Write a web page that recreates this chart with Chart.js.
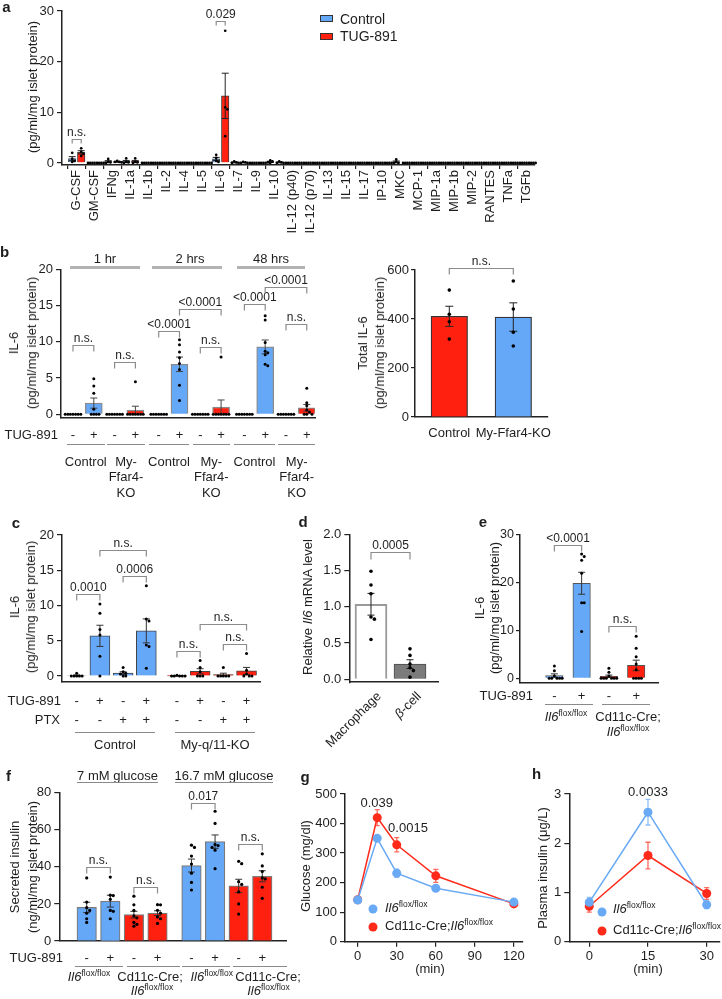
<!DOCTYPE html>
<html><head><meta charset="utf-8"><title>Figure</title>
<script src="https://cdn.jsdelivr.net/npm/chart.js@4.4.1/dist/chart.umd.min.js"></script>
<style>
html,body{margin:0;padding:0;background:#fff}
#root{position:relative;width:722px;height:999px;overflow:hidden;font-family:"Liberation Sans",Arial,sans-serif;color:#1e1e1e}
#root canvas{position:absolute}
.t{position:absolute;white-space:nowrap;font-size:13px;line-height:16px}
.c{transform:translate(-50%,-50%);text-align:center}
.lc{transform:translateY(-50%)}
.r{transform:translate(-50%,-50%) rotate(-90deg);text-align:center}
.d45{transform-origin:100% 50%;transform:translate(-100%,-50%) rotate(-45deg)}
.L{font-weight:bold;font-size:15px;transform:translate(-50%,-50%)}
sup{font-size:8.5px;line-height:0;vertical-align:5px}
.hl{position:absolute}
.dot{position:absolute;width:9px;height:9px;border-radius:50%;transform:translate(-50%,-50%)}
.box{position:absolute;border:1px solid #333;box-sizing:border-box}
</style></head><body><div id="root"></div>
<script>
// ================= DATA =================
// panel a
const aCats=['G-CSF','GM-CSF','IFNg','IL-1a','IL-1b','IL-2','IL-4','IL-5','IL-6','IL-7','IL-9','IL-10','IL-12 (p40)','IL-12 (p70)','IL-13','IL-15','IL-17','IP-10','MKC','MCP-1','MIP-1a','MIP-1b','MIP-2','RANTES','TNFa','TGFb'];
const aCtrl=[0.85,0,0.28,0.3,0,0,0,0,0.8,0.1,0,0.22,0,0,0,0,0,0,0.22,0,0,0,0,0,0,0];
const aCtrlSem=[0.4,0,0.18,0.2,0,0,0,0,0.3,0.07,0,0.12,0,0,0,0,0,0,0.17,0,0,0,0,0,0,0];
const aTug=[2.1,0,0.22,0.3,0,0,0,0,13.25,0.08,0,0.1,0,0,0,0,0,0,0,0,0,0,0,0,0,0];
const aTugSem=[0.32,0,0.07,0.2,0,0,0,0,4.47,0.05,0,0.07,0,0,0,0,0,0,0,0,0,0,0,0,0,0];
const Z4=[0,0,0,0];
const aCtrlDots=[[2.0,0.8,0.4,0.2],Z4,[0.8,0.2,0.1,0],[0.9,0.2,0.1,0],Z4,Z4,Z4,Z4,[1.6,1.0,0.4,0.2],[0.3,0.1,0,0],Z4,[0.5,0.3,0.1,0],Z4,Z4,Z4,Z4,Z4,Z4,[0.7,0.2,0,0],Z4,Z4,Z4,Z4,Z4,Z4,Z4];
const aTugDots=[[2.9,2.2,1.8,1.4],Z4,[0.4,0.2,0.2,0.1],[0.9,0.2,0.1,0],Z4,Z4,Z4,Z4,[26.1,11.0,10.6,5.3],[0.2,0.1,0,0],Z4,[0.3,0.1,0,0],Z4,Z4,Z4,Z4,Z4,Z4,Z4,Z4,Z4,Z4,Z4,Z4,Z4,Z4];
const aYTicks=[0,10,20,30];
const aSeries=['Control','TUG-891'];

// panel b (left)
const bTug=['-','+','-','+','-','+','-','+','-','+','-','+'];
const bIL6=[0,1.55,0,0.56,0,6.9,0,0.99,0,9.3,0,0.91];
const bSem=[0,0.7,0,0.56,0,1.0,0,0.99,0,0.95,0,0.45];
const Z7=[0,0,0,0,0,0,0];
const bDots=[Z7,[4.9,3.9,2.9,0.7,0,0,0,0],Z7,[4.5,0,0,0,0,0,0,0],Z7,[10.3,9.6,8.6,7.8,7.0,6.2,4.0,1.9],Z7,[7.9,0,0,0,0,0,0,0],Z7,[13.6,13.0,9.9,8.7,8.5,8.2,6.9,6.7],Z7,[3.6,1.6,1.2,0.6,0.3,0,0,0]];
const bYTicks=[0,5,10,15,20];
// panel b (right)
const bTotCats=['Control','My-Ffar4-KO'];
const bTot=[411,408];
const bTotSem=[41,58];
const bTotDots=[[518,419,389,318],[555,441,346,290]];
const bTotTicks=[0,200,400,600];

// panel c
const cTug=['-','+','-','+','-','+','-','+'];
const cPtx=['-','-','+','+','-','-','+','+'];
const cIL6=[0.07,5.7,0.42,6.4,0.02,0.67,0.2,0.72];
const cSem=[0.07,1.5,0.18,1.7,0.02,0.36,0.2,0.5];
const cDots=[[0.4,0,0,0,0,0],[10.2,8.9,6.6,5.8,2.8,0],[1.2,0.6,0.4,0.3,0,0],[12.8,8.1,7.8,4.4,4.2,1.1],[0.1,0,0,0,0,0],[2.2,1.2,0.6,0,0,0],[1.2,0,0,0,0,0],[3.2,0.8,0.3,0,0,0]];
const cYTicks=[0,5,10,15,20];

// panel d
const dCats=['Macrophage','β-cell'];
const dRel=[1.035,0.21];
const dSem=[0.15,0.06];
const dDots=[[1.49,1.30,1.18,0.86,0.83,0.55],[0.42,0.33,0.21,0.16,0.12,0.03]];
const dYTicks=[0,0.5,1,1.5,2];

// panel e
const eTug=['-','+','-','+'];
const eIL6=[0.59,19.9,0.43,2.7];
const eSem=[0.35,2.3,0.25,1.1];
const eDots=[[2.6,1.6,0.5,0,0,0,0,0],[26,25.5,24.7,22,15.8,15.8,9.8],[2.1,1.3,0.5,0,0,0,0,0,0],[8.8,6.3,4.5,3.0,1.8,0,0,0,0]];
const eYTicks=[0,10,20,30];

// panel f
const fTug=['-','+','-','+','-','+','-','+'];
const fIns=[18.1,21.5,14.2,15.0,40.7,53.6,29.7,34.9];
const fSem=[2.8,3.2,1.8,1.3,3.5,3.6,3.6,3.0];
const fDots=[[34,21,18,16.5,15,12,10],[34.5,24.7,24.5,22.5,16.5,16,12],[24.2,19.5,16.5,13.5,12.5,10,9,8],[19.6,19.5,16.6,15,13,12,9.5],[51.7,50.5,45.8,41.5,36.6,31.6,27.5],[70,63.4,52,51.5,50.5,49,39],[43,41.7,32,30.5,26.5,20,14.5],[47,40.5,37.5,34,33.5,29,23]];
const fYTicks=[0,20,40,60,80];

// panel g
const gMin=[0,15,30,60,120];
const gFlox=[141,350,232,181,134];
const gFloxSem=[8,8,14,10,6];
const gCre=[142,420,328,223,128];
const gCreSem=[10,27,24,22,6];
const gXTicks=[0,30,60,90,120];
const gYTicks=[0,100,200,300,400,500];

// panel h
const hMin=[0,15,30];
const hFlox=[0.80,2.63,0.75];
const hFloxSem=[0.10,0.26,0.08];
const hCre=[0.72,1.75,0.98];
const hCreSem=[0.12,0.27,0.12];
const hXTicks=[0,15,30];
const hYTicks=[0,1,2,3];

// ================= STYLE / HELPERS =================
const FF='"Liberation Sans", Arial, Helvetica, sans-serif';
const TXT='#1e1e1e', AX='#222222';
const BLUE='#66a8f8', RED='#ff200f', LBLUE='#6aaaf5', LRED='#ff2a1a';
const root=document.getElementById('root');

function swarm(ys,gap){
  const placed=[],out=[];
  const order=ys.map((y,i)=>i).sort((a,b)=>ys[a]-ys[b]);
  for(const i of order){
    const y=ys[i];let x=0;
    for(let n=0;n<60;n++){
      x=n===0?0:(n%2?1:-1)*Math.ceil(n/2)*gap;
      if(placed.every(p=>Math.hypot(p.x-x,p.y-y)>=gap-0.01))break;
    }
    placed.push({x,y});out[i]=x;
  }
  return out;
}
function makeDeco(o){
  const P=(chart,ref)=>{const r=Array.isArray(ref)?ref:[0,ref];return chart.getDatasetMeta(r[0]).data[r[1]].x;};
  function errs(chart){
    const ctx=chart.ctx,ys=chart.scales.y;
    chart.data.datasets.forEach((ds,di)=>{
      if(!ds.sem)return;
      chart.getDatasetMeta(di).data.forEach((el,i)=>{
        const s=ds.sem[i];if(!(s>0))return;
        const v=ds.data[i].y,x=el.x;
        const yh=ys.getPixelForValue(v+s),yl=ys.getPixelForValue(Math.max(v-s,ys.min));
        const cw=ds.cap||3.5;
        ctx.strokeStyle=ds.errColor||'#222';ctx.lineWidth=ds.errWidth||1;
        ctx.beginPath();ctx.moveTo(x,yh);ctx.lineTo(x,yl);
        ctx.moveTo(x-cw,yh);ctx.lineTo(x+cw,yh);ctx.moveTo(x-cw,yl);ctx.lineTo(x+cw,yl);ctx.stroke();
      });
    });
  }
  function dots(chart){
    const ctx=chart.ctx,ys=chart.scales.y;
    chart.data.datasets.forEach((ds,di)=>{
      if(!ds.dots)return;
      chart.getDatasetMeta(di).data.forEach((el,i)=>{
        const d=ds.dots[i];if(!d)return;
        const py=d.map(v=>ys.getPixelForValue(v));const off=swarm(py,o.dotGap||3);
        ctx.fillStyle='#000';
        py.forEach((yy,k)=>{ctx.beginPath();ctx.arc(el.x+off[k],yy,o.dotR||1.6,0,Math.PI*2);ctx.fill();});
      });
    });
  }
  function brackets(chart){
    const ctx=chart.ctx,ys=chart.scales.y;
    (o.brackets||[]).forEach(b=>{
      const x1=P(chart,b.a),x2=P(chart,b.b),y=Math.round(ys.getPixelForValue(b.y))+0.5,t=o.btick||6;
      ctx.strokeStyle=o.bcolor||'#8c8c8c';ctx.lineWidth=1.2;
      ctx.beginPath();ctx.moveTo(x1,y+t);ctx.lineTo(x1,y);ctx.lineTo(x2,y);ctx.lineTo(x2,y+t);ctx.stroke();
      ctx.fillStyle=TXT;ctx.font='12px '+FF;ctx.textAlign='center';ctx.textBaseline='alphabetic';
      ctx.fillText(b.t,(x1+x2)/2,y-3.5);
    });
  }
  function rows(chart){
    const ctx=chart.ctx;
    (o.rows||[]).forEach(r=>{
      ctx.font='13px '+FF;ctx.fillStyle=TXT;ctx.textBaseline='middle';
      ctx.textAlign='right';ctx.fillText(r.label,r.lx-o.bx,r.y-o.by);
      ctx.textAlign='center';
      r.items.forEach((t,i)=>ctx.fillText(t,P(chart,i),r.y-o.by));
    });
  }
  return {id:'deco',
    beforeDatasetsDraw(chart){if(o.errBefore)errs(chart);},
    afterDatasetsDraw(chart){if(!o.errBefore)errs(chart);dots(chart);brackets(chart);rows(chart);}};
}
function mk(box,plot,cfg,deco){
  const [bx,by,bw,bh]=box,[pl,pt,pr,pb]=plot;
  const cv=document.createElement('canvas');cv.width=bw;cv.height=bh;
  cv.style.left=bx+'px';cv.style.top=by+'px';cv.style.width=bw+'px';cv.style.height=bh+'px';
  root.appendChild(cv);
  const o=cfg.options;
  Object.assign(o,{responsive:false,maintainAspectRatio:false,animation:false,devicePixelRatio:1,events:[]});
  o.layout={autoPadding:false,padding:{left:0,top:pt-by,right:bx+bw-pr,bottom:0}};
  o.plugins={legend:{display:false},tooltip:{enabled:false},title:{display:false}};
  o.scales.x.afterFit=s=>{s.height=by+bh-pb;s.paddingLeft=0;s.paddingRight=0;s.paddingTop=0;s.paddingBottom=0;};
  o.scales.y.afterFit=s=>{s.width=pl-bx;s.paddingLeft=0;s.paddingRight=0;s.paddingTop=0;s.paddingBottom=0;};
  cfg.plugins=[makeDeco(Object.assign({bx,by},deco||{}))];
  return new Chart(cv,cfg);
}
const yS=(min,max,ticks,fmt,ex)=>({type:'linear',min,max,
  afterBuildTicks:s=>{s.ticks=ticks.map(v=>({value:v}));},
  ticks:Object.assign({font:{family:FF,size:13},color:TXT,padding:3,callback:fmt||(v=>String(v))},(ex&&ex.ticks)||{}),
  grid:Object.assign({display:true,drawOnChartArea:false,drawTicks:true,tickLength:5,color:AX,lineWidth:1.2},(ex&&ex.grid)||{}),
  border:{display:true,color:AX,width:1.5}});
const xNone=(min,max)=>({type:'linear',offset:false,min,max,grid:{display:false},
  border:{display:true,color:AX,width:1.5},ticks:{display:false}});
const xLab=(min,max,ticks,labels,extra)=>Object.assign({type:'linear',offset:false,min,max,
  afterBuildTicks:s=>{s.ticks=ticks.map(v=>({value:v}));},
  ticks:Object.assign({autoSkip:false,font:{family:FF,size:13},color:TXT,padding:2,callback:labels?(v=>labels[v]):(v=>String(v))},(extra&&extra.ticks)||{}),
  grid:Object.assign({display:true,drawOnChartArea:false,drawTicks:true,tickLength:5,color:AX,lineWidth:1.2},(extra&&extra.grid)||{}),
  border:{display:true,color:AX,width:1.5}});
function bars(vals,pos,extra){return Object.assign({type:'bar',data:vals.map((v,i)=>({x:pos(i),y:v})),grouped:false},extra);}

// HTML text helpers
function T(html,x,y,cls,st){const d=document.createElement('div');d.className='t '+(cls||'c');d.innerHTML=html;d.style.left=x+'px';d.style.top=y+'px';if(st)Object.assign(d.style,st);root.appendChild(d);return d;}
function HL(x1,x2,y,color,w){const d=document.createElement('div');d.className='hl';Object.assign(d.style,{left:x1+'px',top:(y-w/2)+'px',width:(x2-x1)+'px',height:w+'px',background:color});root.appendChild(d);}
function DOT(x,y,c){const d=document.createElement('div');d.className='dot';Object.assign(d.style,{left:x+'px',top:y+'px',background:c});root.appendChild(d);}
function BOX(x,y,c){const d=document.createElement('div');d.className='box';Object.assign(d.style,{left:x+'px',top:y+'px',width:'13px',height:'7px',background:c});root.appendChild(d);}
const IL6F='<i>Il6</i><sup>flox/flox</sup>';

// ================= PANEL a =================
mk([0,0,560,240],[62,11,535,165],{type:'bar',
  data:{datasets:[
    bars(aCtrl,i=>i-0.25,{label:aSeries[0],backgroundColor:BLUE,borderColor:'#3c3c3c',borderWidth:1,barThickness:7.5,sem:aCtrlSem,dots:aCtrlDots}),
    bars(aTug,i=>i+0.25,{label:aSeries[1],backgroundColor:RED,borderColor:'#3c3c3c',borderWidth:1,barThickness:7.5,sem:aTugSem,dots:aTugDots})]},
  options:{scales:{
    x:xLab(-0.817,25.46,aCats.map((c,i)=>i),aCats,{ticks:{minRotation:90,maxRotation:90,padding:1},grid:{tickLength:4}}),
    y:yS(-0.4,30,aYTicks)}}},
  {dotR:1.35,dotGap:2.2,btick:4,brackets:[{a:[0,0],b:[1,0],y:4.7,t:'n.s.'},{a:[0,8],b:[1,8],y:28,t:'0.029'}]});
T('(pg/ml/mg islet protein)',33,87,'r');
BOX(320,15,BLUE);BOX(320,32.5,RED);
T(aSeries[0],340,18.5,'lc',{fontSize:'14px'});
T(aSeries[1],340,36,'lc',{fontSize:'14px'});

// ================= PANEL b =================
const bPos=i=>i+0.12*Math.floor(i/4);
mk([0,250,330,250],[61,269.3,315,417.6],{type:'bar',
  data:{datasets:[bars(bIL6,bPos,{backgroundColor:bIL6.map((v,i)=>Math.floor(i/2)%2?RED:BLUE),borderColor:'#8a8a8a',borderWidth:1.3,barThickness:17,sem:bSem,dots:bDots,errColor:'#444'})]},
  options:{scales:{x:xNone(-0.577,11.635),y:yS(-0.45,20,bYTicks)}}},
  {dotR:1.5,dotGap:2.6,btick:6,rows:[{y:435,label:'TUG-891',lx:58,items:bTug}],
   brackets:[{a:0,b:1,y:9.5,t:'n.s.'},{a:2,b:3,y:7.2,t:'n.s.'},{a:4,b:5,y:11.45,t:'<0.0001'},{a:5,b:7,y:14.5,t:'<0.0001'},{a:6,b:7,y:9.3,t:'n.s.'},{a:8,b:9,y:15.15,t:'<0.0001'},{a:9,b:11,y:17.6,t:'<0.0001'},{a:10,b:11,y:12.4,t:'n.s.'}]});
T('IL-6<br>(pg/ml/mg islet protein)',22.5,343,'r',{lineHeight:'18px'});
T('1 hr',105,259);T('2 hrs',190,259);T('48 hrs',271,259);
HL(70,140,267.3,'#b3b3b3',2.5);HL(152,222,267.3,'#b3b3b3',2.5);HL(237,305,267.3,'#b3b3b3',2.5);
[[66.7,105],[107.3,145],[149,189.3],[192.7,230],[234,275],[278.3,315]].forEach(p=>HL(p[0],p[1],444.3,'#8a8a8a',1));
[[85.8,126],[169,211.3],[254.5,296.7]].forEach(p=>{T('Control',p[0],461.5);T('My-',p[1],461.5);T('Ffar4-',p[1],476.5);T('KO',p[1],493);});

mk([340,245,220,210],[415,270,548,417],{type:'bar',
  data:{datasets:[bars(bTot,i=>i,{backgroundColor:[RED,BLUE],borderColor:'#333',borderWidth:1.2,barThickness:36.5,sem:bTotSem,dots:bTotDots,cap:4})]},
  options:{scales:{x:xLab(-0.536,1.542,[0,1],bTotCats,{ticks:{padding:4},grid:{display:false}}),y:yS(0,600,bTotTicks,null,{ticks:{padding:2},grid:{tickLength:4}})}}},
  {dotR:1.8,dotGap:3.5,btick:6,brackets:[{a:0,b:1,y:609,t:'n.s.'}]});
T('Total IL-6<br>(pg/ml/mg islet protein)',371,343,'r',{lineHeight:'17px'});

// ================= PANEL c =================
const cPos=i=>i+0.32*Math.floor(i/4);
mk([0,515,290,225],[62,535,260,681.3],{type:'bar',
  data:{datasets:[bars(cIL6,cPos,{backgroundColor:cIL6.map((v,i)=>i<4?BLUE:RED),borderColor:'#444',borderWidth:1,barThickness:20,sem:cSem,dots:cDots,errColor:'#333'})]},
  options:{scales:{x:xNone(-0.634,7.9),y:yS(-0.75,20,cYTicks)}}},
  {dotR:1.5,dotGap:2.7,btick:6,rows:[{y:701,label:'TUG-891',lx:61,items:cTug},{y:720,label:'PTX',lx:60,items:cPtx}],
   brackets:[{a:0,b:1,y:11.7,t:'0.0010'},{a:2,b:3,y:14.2,t:'0.0006'},{a:1,b:3,y:17.9,t:'n.s.'},{a:4,b:5,y:3.6,t:'n.s.'},{a:6,b:7,y:4.6,t:'n.s.'},{a:5,b:7,y:7.4,t:'n.s.'}]});
T('IL-6<br>(pg/ml/mg islet protein)',22.5,607,'r',{lineHeight:'16px'});
HL(75,155,732.7,'#8a8a8a',1);HL(175,255,732.7,'#8a8a8a',1);
T('Control',115,745);T('My-q/11-KO',215,745);

// ================= PANEL d =================
mk([280,515,170,215],[349.3,534.3,438,682.2],{type:'bar',
  data:{datasets:[bars(dRel,i=>i,{backgroundColor:['#ffffff','#7b7b7b'],borderColor:['#9a9a9a','#555555'],borderWidth:[2,1.2],barThickness:32,sem:dSem,dots:dDots})]},
  options:{scales:{x:xNone(-0.556,1.718),y:yS(-0.04,2,dYTicks,v=>v.toFixed(1))}}},
  {dotR:1.8,dotGap:3.4,btick:7,brackets:[{a:0,b:1,y:1.76,t:'0.0005'}]});
T('Relative <i>Il6</i> mRNA level',308,607,'r');
T(dCats[0],379,694,'d45');T('<i>β</i>-cell',419,694,'d45');

// ================= PANEL e =================
mk([470,515,200,225],[520,535,658,682.4],{type:'bar',
  data:{datasets:[bars(eIL6,i=>i,{backgroundColor:eIL6.map((v,i)=>i<2?BLUE:RED),borderColor:'#555',borderWidth:1,barThickness:17.5,sem:eSem,dots:eDots,errColor:'#333'})]},
  options:{scales:{x:xNone(-1.26,3.8),y:yS(-0.85,30,eYTicks,null,{ticks:{padding:2,font:{family:FF,size:12.5}},grid:{tickLength:4}})}}},
  {dotR:1.5,dotGap:2.6,btick:6,rows:[{y:696.7,label:'TUG-891',lx:533,items:eTug}],
   brackets:[{a:0,b:1,y:27.9,t:'<0.0001'},{a:2,b:3,y:10.9,t:'n.s.'}]});
T('IL-6<br>(pg/ml/mg islet protein)',487,608,'r',{lineHeight:'15px'});
HL(545,593,704,'#8a8a8a',1);HL(602,650,704,'#8a8a8a',1);
T(IL6F,566,716.5);T('Cd11c-Cre;',628,716.5);T(IL6F,628,731.5);

// ================= PANEL f =================
const fPos=i=>i+0.44*Math.floor(i/4);
mk([0,770,300,229],[59.3,792.7,286.7,941],{type:'bar',
  data:{datasets:[bars(fIns,fPos,{backgroundColor:fIns.map((v,i)=>Math.floor(i/2)%2?RED:BLUE),borderColor:'#7a7a7a',borderWidth:1.2,barThickness:19.5,sem:fSem,dots:fDots,errColor:'#333'})]},
  options:{scales:{x:xNone(-1.161,8.475),y:yS(0,80,fYTicks)}}},
  {dotR:1.6,dotGap:3,btick:6,rows:[{y:958.3,label:'TUG-891',lx:63,items:fTug}],
   brackets:[{a:0,b:1,y:40,t:'n.s.'},{a:2,b:3,y:28.9,t:'n.s.'},{a:4,b:5,y:74.5,t:'0.017'},{a:6,b:7,y:52.3,t:'n.s.'}]});
T('Secreted insulin<br>(ng/ml/mg islet protein)',23,867,'r',{lineHeight:'17.5px'});
T('7 mM glucose',117.5,776);T('16.7 mM glucose',224,776);
HL(77,158,782,'#8a8a8a',1);HL(175,273,782,'#8a8a8a',1);
[[75,123],[127,180],[182,230],[233,287]].forEach(p=>HL(p[0],p[1],966.7,'#8a8a8a',1));
T(IL6F,89,977);T('Cd11c-Cre;',150,977);T(IL6F,152,990.5);
T(IL6F,211.7,977);T('Cd11c-Cre;',268,977);T(IL6F,268.5,990.5);

// ================= PANEL g =================
const lineDs=(xs,ys,sem,c,ec)=>({type:'line',data:xs.map((x,i)=>({x,y:ys[i]})),borderColor:c,backgroundColor:c,pointBackgroundColor:c,pointRadius:4.5,pointBorderWidth:0,borderWidth:1.5,tension:0,sem,errColor:ec,cap:2.5,errWidth:1.3});
mk([300,775,230,224],[345,794,523,941.7],{type:'line',
  data:{datasets:[lineDs(gMin,gFlox,gFloxSem,LBLUE,'rgba(106,170,245,0.75)'),lineDs(gMin,gCre,gCreSem,LRED,'rgba(255,42,26,0.7)')]},
  options:{scales:{x:xLab(-9.75,127,gXTicks,null,{ticks:{padding:2}}),y:yS(0,500,gYTicks)}}},
  {errBefore:true});
T('Glucose (mg/dl)',306,866,'r');
T('0.039',376.7,803.3);T('0.0015',408,827.7);T('(min)',430,969.3);
DOT(373.3,909,LBLUE);DOT(373.3,927.3,LRED);
T(IL6F,385,907.5,'lc');T('Cd11c-Cre;'+IL6F,385,925.5,'lc');

// ================= PANEL h =================
mk([530,775,192,224],[569.3,794,720,941.7],{type:'line',
  data:{datasets:[lineDs(hMin,hFlox,hFloxSem,LBLUE,'rgba(106,170,245,0.75)'),lineDs(hMin,hCre,hCreSem,LRED,'rgba(255,42,26,0.7)')]},
  options:{scales:{x:xLab(-5.1,33.4,hXTicks,null,{ticks:{padding:2}}),y:yS(0,3,hYTicks)}}},
  {errBefore:true});
T('Plasma insulin (μg/L)',542.5,868,'r');
T('0.0033',648,791.7);T('(min)',648,969.3);
DOT(601.7,912.3,LBLUE);DOT(601.7,930.7,LRED);
T(IL6F,613,909,'lc');T('Cd11c-Cre;'+IL6F,613,930,'lc');

// panel letters
[['a',6.5,7],['b',4.5,252],['c',16,522.5],['d',303,521.5],['e',483,521.7],['f',8.5,775.5],['g',305,777],['h',536.7,774]].forEach(l=>T(l[0],l[1],l[2],'L'));
</script></body></html>
